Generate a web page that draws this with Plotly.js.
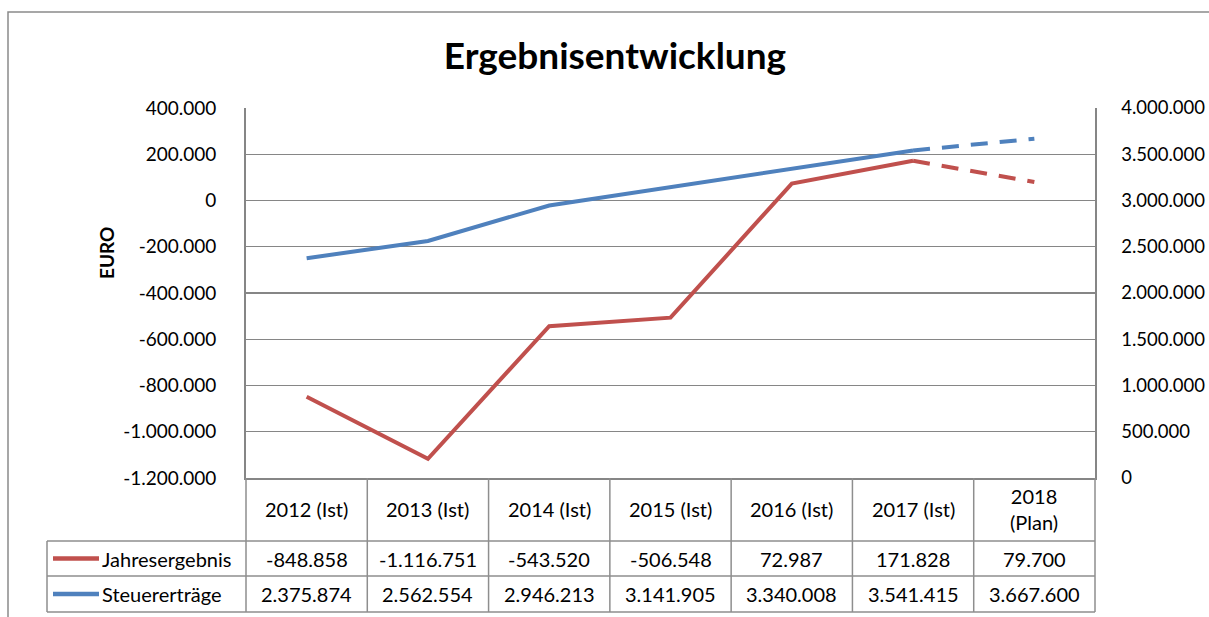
<!DOCTYPE html>
<html>
<head>
<meta charset="utf-8">
<script src="https://cdn.plot.ly/plotly-3.0.1.min.js"></script>
<style>html,body{margin:0;padding:0;background:#fff;}#chart{width:1209px;height:617px;}</style>
</head>
<body>
<div id="chart"></div>
<script>
// ---- data ----
const categories = ['2012 (Ist)', '2013 (Ist)', '2014 (Ist)', '2015 (Ist)', '2016 (Ist)', '2017 (Ist)', '2018<br>(Plan)'];
const seriesNames = ['Jahresergebnis', 'Steuererträge'];
const jahresergebnis = [-848858, -1116751, -543520, -506548, 72987, 171828, 79700];
const steuerertraege = [2375874, 2562554, 2946213, 3141905, 3340008, 3541415, 3667600];
const leftTickVals = [-1200000, -1000000, -800000, -600000, -400000, -200000, 0, 200000, 400000];
const rightTickVals = [0, 500000, 1000000, 1500000, 2000000, 2500000, 3000000, 3500000, 4000000];
const planStart = 5; // index from which the line is dashed (2017 -> 2018)

// ---- styling ----
const RED = '#C0504D', BLUE = '#4F81BD', GRID = '#868686', TBL = '#8E8E8E';
const FONT = 'Lato, "Open Sans", sans-serif';
const FS = 20;

function fmt(v) {
  const s = Math.abs(Math.round(v)).toString().replace(/\B(?=(\d{3})+(?!\d))/g, '.');
  return (v < 0 ? '-' : '') + s;
}

// layout pixel geometry
const W = 1209, H = 617, L = 246, R = 114, T = 108, B = 139;
const PW = W - L - R, PH = H - T - B;
const px = x => (x - L) / PW;              // pixel x -> paper x
const py = y => (H - B - y) / PH;          // pixel y -> paper y

const n = categories.length;
const LW = 4;
const traces = [
  {x: categories.slice(0, planStart + 1), y: jahresergebnis.slice(0, planStart + 1), name: seriesNames[0],
   mode: 'lines', line: {color: RED, width: LW}, yaxis: 'y', hoverinfo: 'skip'},
  {x: categories.slice(planStart), y: jahresergebnis.slice(planStart), name: seriesNames[0] + ' (Plan)',
   mode: 'lines', line: {color: RED, width: LW, dash: '17px,12px'}, yaxis: 'y', hoverinfo: 'skip'},
  {x: categories.slice(0, planStart + 1), y: steuerertraege.slice(0, planStart + 1), name: seriesNames[1],
   mode: 'lines', line: {color: BLUE, width: LW}, yaxis: 'y2', hoverinfo: 'skip'},
  {x: categories.slice(planStart), y: steuerertraege.slice(planStart), name: seriesNames[1] + ' (Plan)',
   mode: 'lines', line: {color: BLUE, width: LW, dash: '17px,12px'}, yaxis: 'y2', hoverinfo: 'skip'}
];

// ---- data table (shapes + annotations) ----
const rowTop = 478, row1 = 541, row2 = 576, rowBot = 612, legL = 47;
const shapes = [];
const line = (x0, y0, x1, y1, color, width) => shapes.push({type: 'line', xref: 'paper', yref: 'paper',
  x0: x0, y0: y0, x1: x1, y1: y1, line: {color: color, width: width}, layer: 'above'});
// outer chart frame
shapes.push({type: 'rect', xref: 'paper', yref: 'paper', x0: px(8), x1: px(1230), y0: py(12), y1: py(650),
  line: {color: '#8A8A8A', width: 1.5}, fillcolor: 'rgba(0,0,0,0)', layer: 'below'});
// horizontal table lines
[row1, row2, rowBot].forEach(y => line(px(legL), py(y), 1, py(y), TBL, 1.5));
// vertical column borders
for (let k = 0; k <= n; k++) line(k / n, py(rowTop), k / n, py(rowBot), TBL, 1.5);
line(px(legL), py(row1), px(legL), py(rowBot), TBL, 1.5);
// legend keys
line(px(53), py((row1 + row2) / 2), px(99), py((row1 + row2) / 2), RED, 4.5);
line(px(53), py((row2 + rowBot) / 2), px(99), py((row2 + rowBot) / 2), BLUE, 4.5);

const annotations = [];
const tf = {family: FONT, size: FS, color: '#000'};
const tickf = {family: FONT, size: 19, color: '#000'};
categories.forEach((c, i) => {
  annotations.push({xref: 'x', yref: 'paper', x: i, y: py((rowTop + row1) / 2), text: c, showarrow: false,
    font: tf, xanchor: 'center', yanchor: 'middle'});
  annotations.push({xref: 'x', yref: 'paper', x: i, y: py((row1 + row2) / 2), text: fmt(jahresergebnis[i]), showarrow: false,
    font: tf, xanchor: 'center', yanchor: 'middle'});
  annotations.push({xref: 'x', yref: 'paper', x: i, y: py((row2 + rowBot) / 2), text: fmt(steuerertraege[i]), showarrow: false,
    font: tf, xanchor: 'center', yanchor: 'middle'});
});
annotations.push({xref: 'paper', yref: 'paper', x: px(100), y: py((row1 + row2) / 2), text: seriesNames[0], showarrow: false,
  font: tf, xanchor: 'left', yanchor: 'middle'});
annotations.push({xref: 'paper', yref: 'paper', x: px(100), y: py((row2 + rowBot) / 2), text: seriesNames[1], showarrow: false,
  font: tf, xanchor: 'left', yanchor: 'middle'});
// y-axis title
annotations.push({xref: 'paper', yref: 'paper', x: px(106), y: py(253), text: '<b>EURO</b>', textangle: -90, showarrow: false,
  font: {family: FONT, size: 19, color: '#000'}, xanchor: 'center', yanchor: 'middle'});

const layout = {
  width: W, height: H,
  margin: {l: L, r: R, t: T, b: B, pad: 0},
  paper_bgcolor: '#fff', plot_bgcolor: '#fff',
  showlegend: false,
  font: {family: FONT, size: FS, color: '#000'},
  title: {text: '<b>Ergebnisentwicklung</b>', x: 615 / W, xanchor: 'center', y: 1 - 56 / H, yanchor: 'middle',
    font: {family: FONT, size: 37, color: '#000'}},
  xaxis: {type: 'category', range: [-0.5, n - 0.5], showticklabels: false, ticks: '', showgrid: false,
    zeroline: false, showline: true, linecolor: GRID, linewidth: 1.5, fixedrange: true},
  yaxis: {range: [leftTickVals[0], leftTickVals[leftTickVals.length - 1]], tickvals: leftTickVals,
    ticktext: leftTickVals.map(fmt), ticks: '', ticklabelstandoff: 24, showgrid: true, gridcolor: GRID, gridwidth: 1.4,
    zeroline: false, showline: true, linecolor: GRID, linewidth: 1.8, tickfont: tickf, fixedrange: true},
  yaxis2: {overlaying: 'y', side: 'right', range: [rightTickVals[0], rightTickVals[rightTickVals.length - 1]],
    tickvals: rightTickVals, ticktext: rightTickVals.map(fmt), ticks: '', ticklabelstandoff: 21, showgrid: false,
    zeroline: false, showline: true, linecolor: GRID, linewidth: 1.5, tickfont: {family: FONT, size: 18.5, color: '#000'},
    fixedrange: true},
  shapes: shapes,
  annotations: annotations
};

Plotly.newPlot('chart', traces, layout, {staticPlot: true, displayModeBar: false});
</script>
</body>
</html>
